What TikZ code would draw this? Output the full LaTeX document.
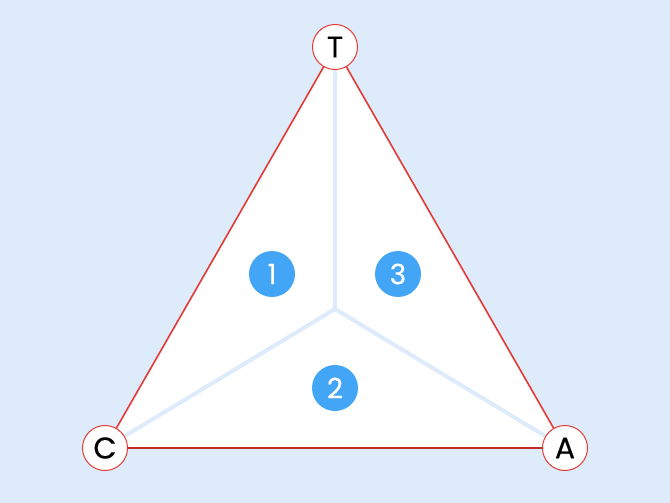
\documentclass[tikz,border=0pt]{standalone}
\usepackage{fontspec}
\setmainfont{Poppins}[FakeBold=0.25]
\definecolor{bgblue}{HTML}{DDEBFA}
\definecolor{edgered}{HTML}{E53935}
\definecolor{basered}{HTML}{C62828}
\definecolor{dotblue}{HTML}{42A5F5}
\begin{document}
\begin{tikzpicture}[x=1pt,y=-1pt,
  vertex/.style={circle,draw=edgered,line width=1pt,fill=white,minimum size=45pt,inner sep=0pt,font=\fontsize{30}{30}\selectfont},
  region/.style={circle,fill=dotblue,text=white,minimum size=46pt,inner sep=0pt,font=\fontsize{28}{28}\selectfont},
  spoke/.style={draw=bgblue,line width=4pt},
  side/.style={draw=edgered,line width=1.6pt}]
\fill[bgblue] (0,0) rectangle (670,503);
\useasboundingbox (0,0) rectangle (670,503);
\coordinate (t) at (335,47);
\coordinate (c) at (105,448);
\coordinate (a) at (565,448);
\coordinate (o) at (335,309);
\fill[white] (t) -- (c) -- (a) -- cycle;
\draw[spoke] (o) -- (t);
\draw[spoke] (o) -- (c);
\draw[spoke] (o) -- (a);
\draw[side] (t) -- (c);
\draw[side] (t) -- (a);
\draw[draw=basered,line width=1.6pt] (c) -- (a);
\node[vertex] (T) at (t) {T};
\node[vertex] (C) at (c) {C};
\node[vertex] (A) at (a) {A};
\node[region] (r1) at (272,274) {1};
\node[region] (r3) at (398,274) {3};
\node[region] (r2) at (335,388) {2};
\end{tikzpicture}
\end{document}
